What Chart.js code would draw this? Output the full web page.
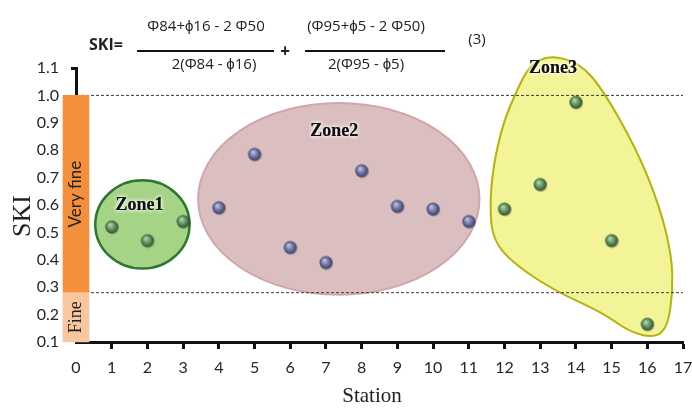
<!DOCTYPE html>
<html>
<head>
<meta charset="utf-8">
<script src="https://cdn.jsdelivr.net/npm/chart.js@4"></script>
<style>
  html, body { margin: 0; padding: 0; background: #fff; }
  #wrap { position: relative; width: 692px; height: 412px; }
  #wrap canvas { position: absolute; left: 0; top: 0; }
  .f { position: absolute; font-family: 'Open Sans', sans-serif; font-size: 15px; color: #222;
       white-space: nowrap; transform: translate(-50%, -50%); line-height: 1; }
  .rule { position: absolute; height: 2px; background: #111; }
</style>
</head>
<body>
<div id="wrap">
  <canvas id="chart" width="692" height="412"></canvas>
  <div class="f" style="left:106px;top:44px;font-weight:bold;font-size:16px">SKI=</div>
  <div class="f" style="left:206px;top:25px">Φ84+ϕ16 - 2 Φ50</div>
  <div class="rule" style="left:137px;top:50px;width:137px"></div>
  <div class="f" style="left:214px;top:63px">2(Φ84 - ϕ16)</div>
  <div class="f" style="left:285px;top:50px;font-weight:bold;font-size:17px">+</div>
  <div class="f" style="left:366px;top:25px">(Φ95+ϕ5 - 2 Φ50)</div>
  <div class="rule" style="left:305px;top:50px;width:140px"></div>
  <div class="f" style="left:366px;top:63px">2(Φ95 - ϕ5)</div>
  <div class="f" style="left:477px;top:38px">(3)</div>
</div>
<script>
// -------------------------------------------------------------
// Data
// -------------------------------------------------------------
const stationTicks = [0, 17]          // x axis range
const skiTicks = [0.1, 1.1]           // y axis range

const zone1Stations = [1, 2, 3]
const zone1Ski = [0.52, 0.47, 0.54]

const zone2Stations = [4, 5, 6, 7, 8, 9, 10, 11]
const zone2Ski = [0.59, 0.785, 0.445, 0.39, 0.725, 0.595, 0.585, 0.54]

const zone3Stations = [12, 13, 14, 15, 16]
const zone3Ski = [0.585, 0.675, 0.975, 0.47, 0.165]

// grain-size classes shown as the bar at station 0
const fineRange = [0.1, 0.28]
const veryFineRange = [0.28, 1.0]
const classLimits = [1.0, 0.28]

// zone outlines, in station / SKI units
const zone1Ellipse = { cx: 1.86, cy: 0.529, rx: 1.32, ry: 0.161 }
const zone2Ellipse = { cx: 7.36, cy: 0.622, rx: 3.94, ry: 0.35 }
const zone3Outline = [
  [13.27, 1.147], [14.11, 1.118], [14.76, 1.02], [15.71, 0.801], [16.35, 0.593],
  [16.69, 0.411], [16.71, 0.279], [16.57, 0.155], [16.21, 0.115], [15.51, 0.136],
  [14.76, 0.206], [13.36, 0.29], [12.24, 0.388], [11.68, 0.472], [11.59, 0.593],
  [11.68, 0.739], [11.96, 0.899], [12.35, 1.02], [12.71, 1.111]
]
const zoneLabels = [['Zone1', 1.78, 0.6], ['Zone2', 7.23, 0.87], ['Zone3', 13.36, 1.1]]

const pts = (xs, ys) => xs.map((x, i) => ({ x, y: ys[i] }))

// little shaded balls for the markers
function sphere(base, light, dark) {
  const c = document.createElement('canvas')
  c.width = c.height = 16
  const g = c.getContext('2d')
  g.fillStyle = 'rgba(0,0,0,0.22)'
  g.beginPath(); g.arc(8.7, 8.9, 6.6, 0, Math.PI * 2); g.fill()
  const gr = g.createRadialGradient(6.2, 5.6, 0.4, 8, 8, 6.8)
  gr.addColorStop(0, light)
  gr.addColorStop(0.55, base)
  gr.addColorStop(1, dark)
  g.fillStyle = gr
  g.beginPath(); g.arc(8, 8, 6.5, 0, Math.PI * 2); g.fill()
  return c
}
const greenBall = sphere('#5f8f5f', '#b4d8aa', '#2d4a2d')
const blueBall = sphere('#6d72a0', '#c0c4e6', '#363a5c')

// -------------------------------------------------------------
// Zones, class labels and axis titles
// -------------------------------------------------------------
const zonePlugin = {
  id: 'zones',
  beforeDatasetsDraw(chart) {
    const { ctx, scales: { x, y } } = chart
    const ellipse = (e, fill, stroke, lw) => {
      const px = x.getPixelForValue(e.cx), py = y.getPixelForValue(e.cy)
      const rx = Math.abs(x.getPixelForValue(e.cx + e.rx) - px)
      const ry = Math.abs(y.getPixelForValue(e.cy + e.ry) - py)
      ctx.beginPath()
      ctx.ellipse(px, py, rx, ry, 0, 0, Math.PI * 2)
      ctx.fillStyle = fill; ctx.fill()
      ctx.lineWidth = lw; ctx.strokeStyle = stroke; ctx.stroke()
    }
    ctx.save()
    ellipse(zone1Ellipse, 'rgb(166,212,134)', '#2c782f', 2.5)
    ellipse(zone2Ellipse, 'rgb(219,191,192)', 'rgb(208,166,170)', 2)

    const p = zone3Outline.map(([a, b]) => [x.getPixelForValue(a), y.getPixelForValue(b)])
    const mid = (a, b) => [(a[0] + b[0]) / 2, (a[1] + b[1]) / 2]
    ctx.beginPath()
    let m = mid(p[p.length - 1], p[0])
    ctx.moveTo(m[0], m[1])
    p.forEach((q, i) => {
      const n = mid(q, p[(i + 1) % p.length])
      ctx.quadraticCurveTo(q[0], q[1], n[0], n[1])
    })
    ctx.closePath()
    ctx.fillStyle = 'rgb(243,243,152)'; ctx.fill()
    ctx.lineWidth = 2; ctx.strokeStyle = '#b5b20c'; ctx.stroke()
    ctx.restore()
  },
  afterDatasetsDraw(chart) {
    const { ctx, scales: { x, y } } = chart
    ctx.save()
    ctx.textAlign = 'center'
    ctx.textBaseline = 'middle'

    ctx.font = 'bold 18px "Liberation Serif"'
    zoneLabels.forEach(([t, a, b]) => {
      const px = x.getPixelForValue(a), py = y.getPixelForValue(b)
      ctx.shadowColor = '#fff'; ctx.shadowBlur = 4
      ctx.fillStyle = '#111'
      ctx.fillText(t, px, py); ctx.fillText(t, px, py)
    })
    ctx.shadowBlur = 0

    // class names inside the bar
    const bx = x.getPixelForValue(0)
    const vertical = (t, py, font) => {
      ctx.save(); ctx.translate(bx, py); ctx.rotate(-Math.PI / 2)
      ctx.font = font; ctx.fillStyle = '#222'; ctx.fillText(t, 0, 0)
      ctx.restore()
    }
    vertical('Very fine', y.getPixelForValue((veryFineRange[0] + veryFineRange[1]) / 2), '17px Lato')
    vertical('Fine', y.getPixelForValue((fineRange[0] + fineRange[1]) / 2), '18px "Liberation Serif"')

    // axis titles
    ctx.save(); ctx.translate(23, 216); ctx.rotate(-Math.PI / 2)
    ctx.font = '26px "Liberation Serif"'; ctx.fillStyle = '#222'; ctx.fillText('SKI', 0, 0)
    ctx.restore()
    ctx.font = '21px "Liberation Serif"'; ctx.fillStyle = '#222'
    ctx.fillText('Station', 372, 396)
    ctx.restore()
  }
}

// -------------------------------------------------------------
// Chart
// -------------------------------------------------------------
const limitLine = v => ({
  type: 'line',
  data: [{ x: stationTicks[0], y: v }, { x: stationTicks[1], y: v }],
  borderColor: '#3a3a3a',
  borderWidth: 1,
  borderDash: [3, 2],
  pointRadius: 0,
  order: 5
})

const classBar = (range, color) => ({
  type: 'bar',
  data: [{ x: 0, y: range }],
  backgroundColor: color,
  barThickness: 26,
  grouped: false,
  clip: false,
  order: 0
})

new Chart(document.getElementById('chart'), {
  type: 'scatter',
  data: {
    datasets: [
      classBar(fineRange, '#f9c6a0'),
      classBar(veryFineRange, '#f48f3c'),
      limitLine(classLimits[0]),
      limitLine(classLimits[1]),
      { data: pts(zone1Stations, zone1Ski), pointStyle: greenBall, order: 1 },
      { data: pts(zone2Stations, zone2Ski), pointStyle: blueBall, order: 1 },
      { data: pts(zone3Stations, zone3Ski), pointStyle: greenBall, order: 1 }
    ]
  },
  options: {
    responsive: false,
    animation: false,
    layout: { padding: { top: 68, right: 9, left: 0, bottom: 0 } },
    plugins: { legend: { display: false }, tooltip: { enabled: false } },
    scales: {
      x: {
        type: 'linear',
        offset: false,
        min: stationTicks[0],
        max: stationTicks[1],
        afterFit: s => { s.height = 70; s.paddingLeft = 0; s.paddingRight = 0 },
        border: { display: true, color: '#111', width: 3 },
        grid: {
          offset: false,
          drawOnChartArea: false,
          tickLength: 7,
          tickWidth: 3,
          tickColor: c => c.index === 0 ? 'rgba(0,0,0,0)' : '#111'
        },
        ticks: { stepSize: 1, autoSkip: false, maxRotation: 0, padding: 9, color: '#262626', font: { family: 'Lato', size: 16 } }
      },
      y: {
        min: skiTicks[0],
        max: skiTicks[1],
        afterFit: s => { s.width = 76 },
        border: { display: true, color: '#111', width: 3 },
        grid: {
          drawOnChartArea: false,
          tickLength: 5,
          tickWidth: 3,
          tickColor: c => c.tick && c.tick.value > 1.05 ? '#111' : 'rgba(0,0,0,0)'
        },
        ticks: { stepSize: 0.1, padding: 12, color: '#262626', font: { family: 'Lato', size: 16 }, callback: v => v.toFixed(1) }
      }
    }
  },
  plugins: [zonePlugin]
})
</script>
</body>
</html>
